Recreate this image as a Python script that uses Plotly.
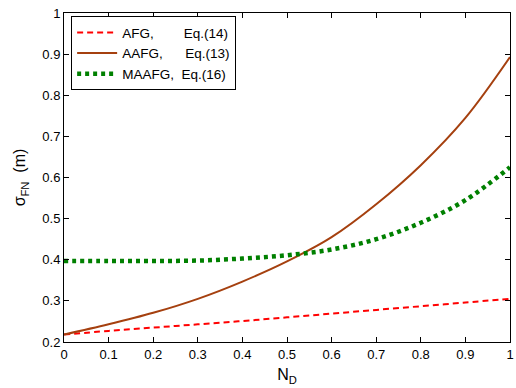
import plotly.graph_objects as go

# Normalised parameter N_D
n_d = [0.0, 0.1, 0.2, 0.3, 0.4, 0.5, 0.6, 0.7, 0.8, 0.9, 1.0]

# Standard deviation sigma_FN (m) for each estimator
afg = [0.218, 0.227, 0.235, 0.243, 0.251, 0.260, 0.269, 0.278, 0.287, 0.296, 0.305]
aafg = [0.218, 0.243, 0.271, 0.305, 0.347, 0.396, 0.455, 0.535, 0.630, 0.745, 0.893]
maafg = [0.397, 0.397, 0.397, 0.398, 0.403, 0.411, 0.425, 0.450, 0.490, 0.545, 0.625]

names = [
    "AFG," + "\u00a0" * 8 + "Eq.(14)",
    "AAFG," + "\u00a0" * 6 + "Eq.(13)",
    "MAAFG," + "\u00a0" * 2 + "Eq.(16)",
]

x_ticks = [0, 0.1, 0.2, 0.3, 0.4, 0.5, 0.6, 0.7, 0.8, 0.9, 1]
x_tick_text = ["0", "0.1", "0.2", "0.3", "0.4", "0.5", "0.6", "0.7", "0.8", "0.9", "1"]
y_ticks = [0.2, 0.3, 0.4, 0.5, 0.6, 0.7, 0.8, 0.9, 1]
y_tick_text = ["0.2", "0.3", "0.4", "0.5", "0.6", "0.7", "0.8", "0.9", "1"]

font = "Liberation Sans, Arial, Helvetica, sans-serif"

fig = go.Figure()
fig.add_trace(go.Scatter(x=n_d, y=afg, mode="lines", name=names[0],
                         line=dict(color="#ff0000", width=2, dash="6px,4px", shape="spline")))
fig.add_trace(go.Scatter(x=n_d, y=aafg, mode="lines", name=names[1],
                         line=dict(color="#a5400f", width=2, shape="spline")))
fig.add_trace(go.Scatter(x=n_d, y=maafg, mode="lines", name=names[2],
                         line=dict(color="#008000", width=4.5, dash="4px,4px", shape="spline")))

axis_common = dict(
    showline=True, linecolor="black", linewidth=1, mirror="ticks",
    ticks="inside", ticklen=5, tickcolor="black",
    showgrid=False, zeroline=False, ticklabeloverflow="allow",
    tickfont=dict(family=font, size=13, color="black"),
)

fig.update_layout(
    width=516, height=388,
    margin=dict(l=64, r=2, t=13, b=46),
    paper_bgcolor="white", plot_bgcolor="white",
    font=dict(family=font, color="black"),
    xaxis=dict(range=[0, 1], tickvals=x_ticks, ticktext=x_tick_text,
               title=dict(text="N<sub>D</sub>", font=dict(size=16), standoff=8),
               **axis_common),
    yaxis=dict(range=[0.2, 1], tickvals=y_ticks, ticktext=y_tick_text,
               title=dict(text="σ<sub>FN</sub>  (m)", font=dict(size=16), standoff=12),
               **axis_common),
    legend=dict(x=0.016, y=0.99, xanchor="left", yanchor="top",
                bgcolor="white", bordercolor="black", borderwidth=1,
                font=dict(family=font, size=13.5, color="black"),
                tracegroupgap=0, itemwidth=40),
    showlegend=True,
)

fig.write_html("out.html")
